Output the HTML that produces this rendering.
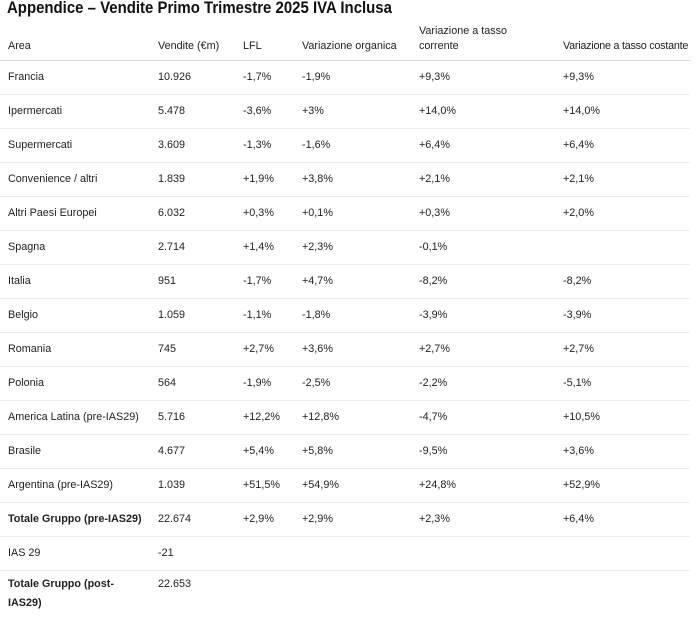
<!DOCTYPE html>
<html><head><meta charset="utf-8"><style>
body{margin:0;background:#fff;width:700px;height:618px;overflow:hidden;font-family:"Liberation Sans",sans-serif;color:#222}
h1{position:absolute;left:7px;top:-2px;margin:0;font-size:17px;font-weight:bold;color:#111;transform:scaleX(0.88);transform-origin:0 0;white-space:nowrap}
table{position:absolute;left:0;top:21px;width:690px;border-collapse:collapse;font-size:10.8px;table-layout:fixed}
td,th{padding:0 0 0 8px;text-align:left;vertical-align:middle;border-bottom:1px solid #ececec;height:33px;line-height:15px}
th{font-weight:normal;color:#222;border-bottom:1px solid #d8d8d8;height:33px;vertical-align:bottom;padding-bottom:6px;white-space:nowrap}
th.c{letter-spacing:-0.25px}
tr.b td:first-child{font-weight:bold}
tr.last td{border-bottom:none;vertical-align:top;padding-top:4px;line-height:19px}
</style></head><body>
<h1>Appendice – Vendite Primo Trimestre 2025 IVA Inclusa</h1>
<table>
<colgroup><col style="width:150px"><col style="width:85px"><col style="width:59px"><col style="width:117px"><col style="width:144px"><col></colgroup>
<tr><th>Area</th><th>Vendite (€m)</th><th>LFL</th><th>Variazione organica</th><th>Variazione a tasso<br>corrente</th><th class="c">Variazione a tasso costante</th></tr>
<tr><td>Francia</td><td>10.926</td><td>-1,7%</td><td>-1,9%</td><td>+9,3%</td><td>+9,3%</td></tr>
<tr><td>Ipermercati</td><td>5.478</td><td>-3,6%</td><td>+3%</td><td>+14,0%</td><td>+14,0%</td></tr>
<tr><td>Supermercati</td><td>3.609</td><td>-1,3%</td><td>-1,6%</td><td>+6,4%</td><td>+6,4%</td></tr>
<tr><td>Convenience / altri</td><td>1.839</td><td>+1,9%</td><td>+3,8%</td><td>+2,1%</td><td>+2,1%</td></tr>
<tr><td>Altri Paesi Europei</td><td>6.032</td><td>+0,3%</td><td>+0,1%</td><td>+0,3%</td><td>+2,0%</td></tr>
<tr><td>Spagna</td><td>2.714</td><td>+1,4%</td><td>+2,3%</td><td>-0,1%</td><td></td></tr>
<tr><td>Italia</td><td>951</td><td>-1,7%</td><td>+4,7%</td><td>-8,2%</td><td>-8,2%</td></tr>
<tr><td>Belgio</td><td>1.059</td><td>-1,1%</td><td>-1,8%</td><td>-3,9%</td><td>-3,9%</td></tr>
<tr><td>Romania</td><td>745</td><td>+2,7%</td><td>+3,6%</td><td>+2,7%</td><td>+2,7%</td></tr>
<tr><td>Polonia</td><td>564</td><td>-1,9%</td><td>-2,5%</td><td>-2,2%</td><td>-5,1%</td></tr>
<tr><td>America Latina (pre-IAS29)</td><td>5.716</td><td>+12,2%</td><td>+12,8%</td><td>-4,7%</td><td>+10,5%</td></tr>
<tr><td>Brasile</td><td>4.677</td><td>+5,4%</td><td>+5,8%</td><td>-9,5%</td><td>+3,6%</td></tr>
<tr><td>Argentina (pre-IAS29)</td><td>1.039</td><td>+51,5%</td><td>+54,9%</td><td>+24,8%</td><td>+52,9%</td></tr>
<tr class="b"><td>Totale Gruppo (pre-IAS29)</td><td>22.674</td><td>+2,9%</td><td>+2,9%</td><td>+2,3%</td><td>+6,4%</td></tr>
<tr><td>IAS 29</td><td>-21</td><td></td><td></td><td></td><td></td></tr>
<tr class="b last"><td>Totale Gruppo (post-<br>IAS29)</td><td>22.653</td><td></td><td></td><td></td><td></td></tr>
</table>
</body></html>
